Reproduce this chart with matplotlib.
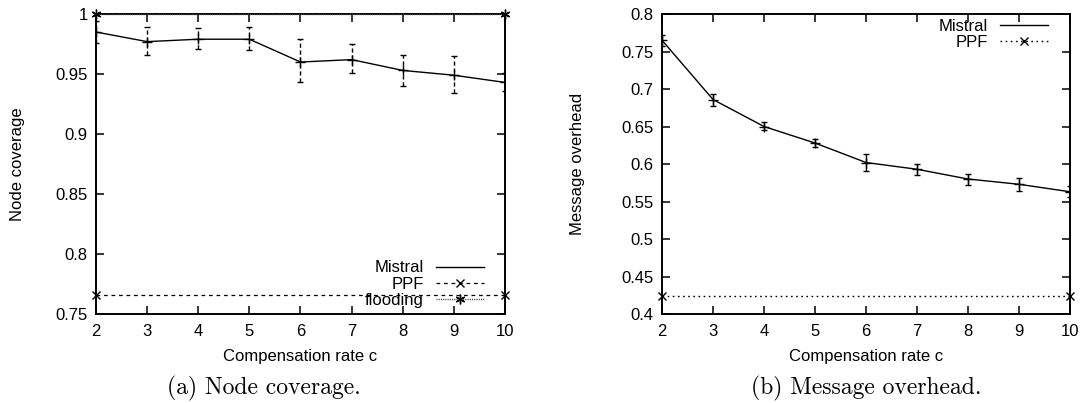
import numpy as np
import matplotlib
matplotlib.use("Agg")
import matplotlib.pyplot as plt
from matplotlib.lines import Line2D

plt.rcParams['font.family'] = ['Liberation Sans', 'DejaVu Sans']
plt.rcParams['font.size'] = 12

# compensation rate c
rates = [2, 3, 4, 5, 6, 7, 8, 9, 10]

# (a) node coverage
mistral_cov = [0.985, 0.977, 0.979, 0.979, 0.960, 0.962, 0.953, 0.949, 0.943]
mistral_cov_lo = [0.976, 0.966, 0.971, 0.970, 0.943, 0.951, 0.940, 0.934, 0.936]
mistral_cov_hi = [0.994, 0.989, 0.988, 0.989, 0.979, 0.975, 0.966, 0.965, 0.951]
ppf_cov = 0.766
flooding_cov = 1.0

# (b) message overhead
mistral_msg = [0.765, 0.686, 0.650, 0.628, 0.602, 0.593, 0.580, 0.573, 0.563]
mistral_msg_lo = [0.758, 0.678, 0.645, 0.623, 0.591, 0.586, 0.572, 0.564, 0.556]
mistral_msg_hi = [0.772, 0.694, 0.656, 0.634, 0.613, 0.600, 0.587, 0.582, 0.571]
ppf_msg = 0.424

x_ticks = [2, 3, 4, 5, 6, 7, 8, 9, 10]
cov_ticks = [0.75, 0.8, 0.85, 0.9, 0.95, 1]
cov_labels = ['0.75', '0.8', '0.85', '0.9', '0.95', '1']
msg_ticks = [0.4, 0.45, 0.5, 0.55, 0.6, 0.65, 0.7, 0.75, 0.8]
msg_labels = ['0.4', '0.45', '0.5', '0.55', '0.6', '0.65', '0.7', '0.75', '0.8']

DASHED = (0, (3, 3))
DOTTED = (0, (1.2, 2.5))
FINEDOT = (0, (0.8, 0.8))
ASTER = (6, 2, 0)


def style_axes(ax, ylabel_x):
    for s in ax.spines.values():
        s.set_linewidth(1.4)
    ax.tick_params(direction='in', length=6, width=1.1, top=True, right=True,
                   labelsize=12)
    ax.tick_params(axis='x', pad=7)
    ax.tick_params(axis='y', pad=6)
    ax.set_xlim(2, 10)
    ax.set_xticks(x_ticks)
    ax.set_xlabel('Compensation rate c', fontsize=12, va='center')
    ax.xaxis.set_label_coords(0.5, -0.143)
    ax.yaxis.set_label_coords(ylabel_x, 0.5)
    ax.yaxis.label.set_va('center')


def draw_errors(ax, x, y, lo, hi, bar_style):
    y = np.array(y)
    yerr = [y - np.array(lo), np.array(hi) - y]
    eb = ax.errorbar(x, y, yerr=yerr, fmt='none', ecolor='black', elinewidth=1.0,
                     capsize=2.5, capthick=1.0, zorder=3)
    eb[2][0].set_linestyle(bar_style)
    ax.plot(x, y, linestyle='none', marker='+', color='black', markersize=7,
            markeredgewidth=1.0, zorder=3)


fig = plt.figure(figsize=(10.86, 4.03), dpi=100)
ax1 = fig.add_axes([0.0884, 0.2208, 0.3766, 0.7444])
ax2 = fig.add_axes([0.6096, 0.2208, 0.3757, 0.7444])

# ---- (a) Node coverage ----
ax1.plot(rates, mistral_cov, color='black', linewidth=1.0, zorder=4)
draw_errors(ax1, rates, mistral_cov, mistral_cov_lo, mistral_cov_hi, (0, (3, 2)))
ax1.plot([rates[0], rates[-1]], [ppf_cov, ppf_cov], color='black', linewidth=0.9,
         linestyle=DASHED, marker='x', markersize=6, markeredgewidth=1.0, clip_on=False)
ax1.plot([rates[0], rates[-1]], [flooding_cov, flooding_cov], color='#444444',
         linewidth=1.0, linestyle=FINEDOT, marker=ASTER, markersize=7,
         markeredgecolor='black', markeredgewidth=1.0, clip_on=False, zorder=5)
ax1.set_ylim(0.75, 1.0)
ax1.set_yticks(cov_ticks)
ax1.set_yticklabels(cov_labels)
ax1.set_ylabel('Node coverage', fontsize=12)
style_axes(ax1, -0.193)

h1 = [Line2D([], [], color='black', linewidth=1.0),
      Line2D([], [], color='black', linewidth=0.9, linestyle=DASHED, marker='x',
             markersize=6),
      Line2D([], [], color='#444444', linewidth=1.0, linestyle=FINEDOT, marker=ASTER,
             markersize=7, markeredgecolor='black')]
ax1.legend(h1, ['Mistral', 'PPF', 'flooding'], loc='lower right',
           bbox_to_anchor=(0.9487, 0.02), frameon=False, markerfirst=False,
           numpoints=1, handlelength=2.9, handletextpad=0.72,
           labelspacing=0.08, borderpad=0, borderaxespad=0, fontsize=12)

# ---- (b) Message overhead ----
ax2.plot(rates, mistral_msg, color='black', linewidth=1.0, zorder=4)
draw_errors(ax2, rates, mistral_msg, mistral_msg_lo, mistral_msg_hi, 'solid')
ax2.plot([rates[0], rates[-1]], [ppf_msg, ppf_msg], color='black', linewidth=1.0,
         linestyle=DOTTED, marker='x', markersize=6, markeredgewidth=1.0, clip_on=False)
ax2.set_ylim(0.4, 0.8)
ax2.set_yticks(msg_ticks)
ax2.set_yticklabels(msg_labels)
ax2.set_ylabel('Message overhead', fontsize=12)
style_axes(ax2, -0.206)

h2 = [Line2D([], [], color='black', linewidth=1.0),
      Line2D([], [], color='black', linewidth=1.0, linestyle=DOTTED, marker='x',
             markersize=6)]
ax2.legend(h2, ['Mistral', 'PPF'], loc='upper right',
           bbox_to_anchor=(0.946, 0.985), frameon=False, markerfirst=False,
           numpoints=1, handlelength=2.9, handletextpad=0.72,
           labelspacing=0.08, borderpad=0, borderaxespad=0, fontsize=12)

# captions
fig.text(0.2431, 0.037, '(a) Node coverage.', ha='center', va='center',
         fontsize=17, family='cmr10')
fig.text(0.7975, 0.037, '(b) Message overhead.', ha='center', va='center',
         fontsize=17, family='cmr10')

fig.savefig('out.png', dpi=100)
